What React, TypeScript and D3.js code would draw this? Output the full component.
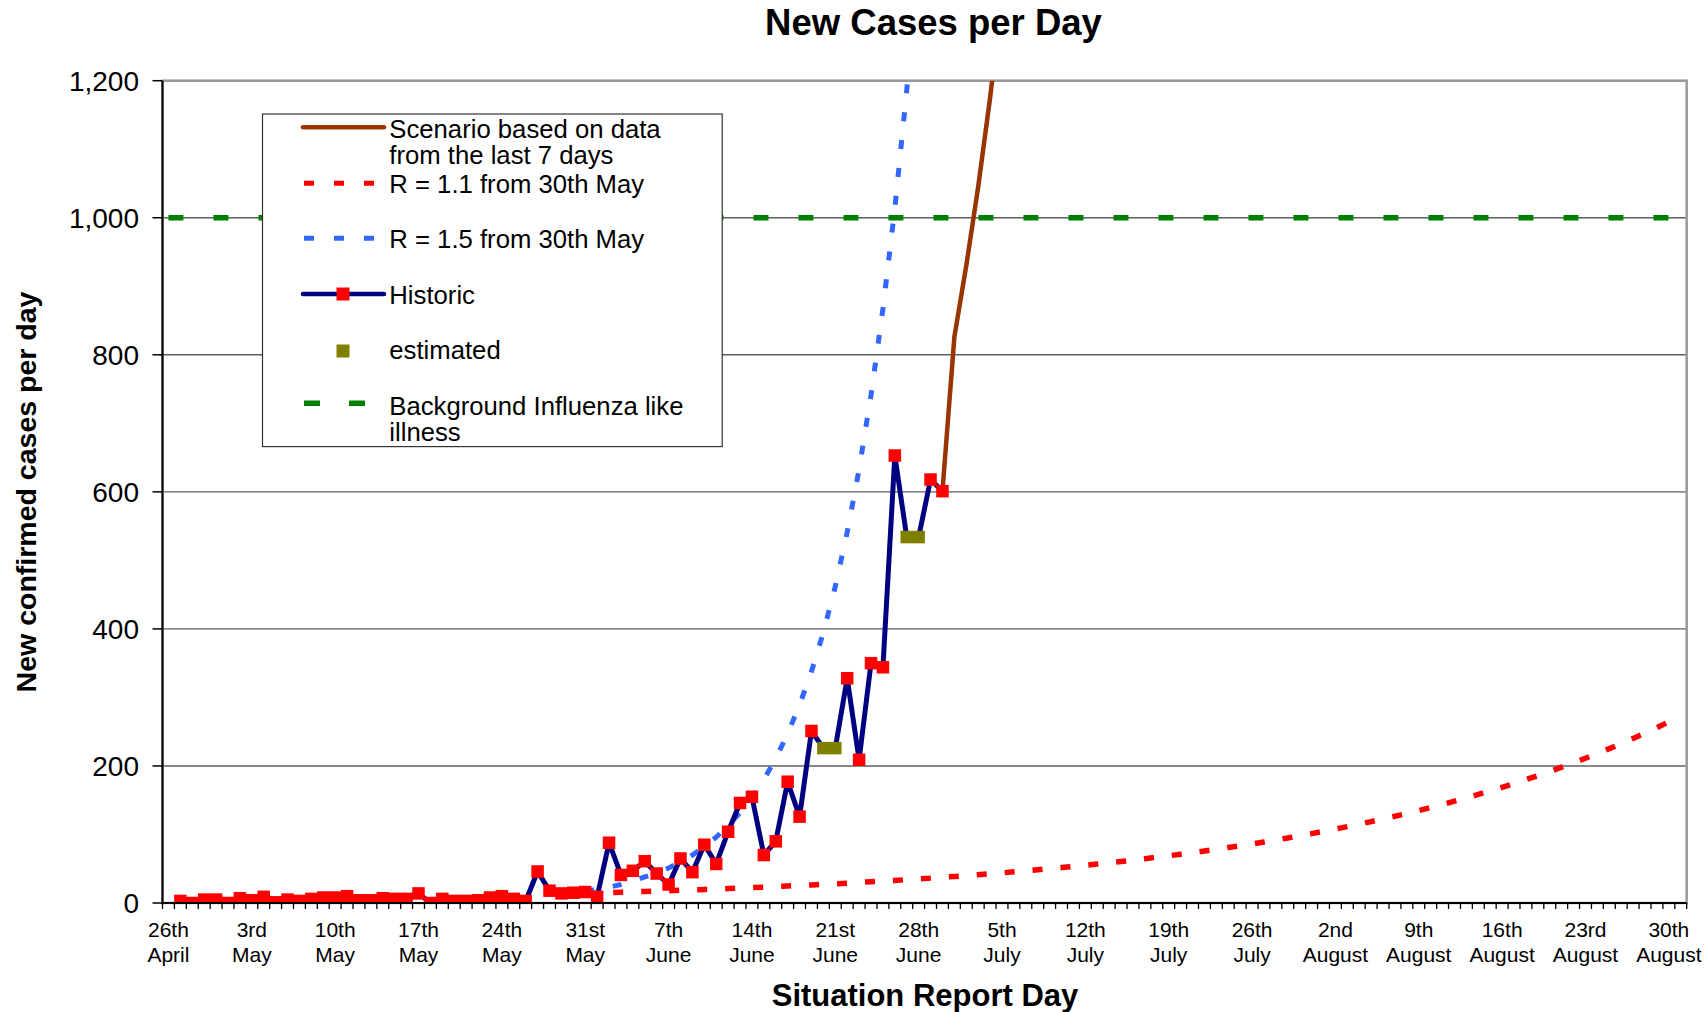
import React from 'react';
import * as d3 from 'd3';

const W = 1708;
const H = 1012;

// Categories: one per day, 26 April 2009 .. 31 August 2009
const startDate = new Date(2009, 3, 26);
const endDate = new Date(2009, 8, 1);
const categories: Date[] = d3.timeDay.range(startDate, endDate);

const tickLabels: string[][] = [
  ['26th', 'April'], ['3rd', 'May'], ['10th', 'May'], ['17th', 'May'], ['24th', 'May'],
  ['31st', 'May'], ['7th', 'June'], ['14th', 'June'], ['21st', 'June'], ['28th', 'June'],
  ['5th', 'July'], ['12th', 'July'], ['19th', 'July'], ['26th', 'July'], ['2nd', 'August'],
  ['9th', 'August'], ['16th', 'August'], ['23rd', 'August'], ['30th', 'August'],
];
const tickEvery = 7;

const yTicks = [0, 200, 400, 600, 800, 1000, 1200];
const yTickLabels = ['0', '200', '400', '600', '800', '1,000', '1,200'];

// Historic daily new confirmed cases, from 27 April
const historicStart = new Date(2009, 3, 27);
const historic = [
  3, 0, 5, 5, 0, 7, 4, 9, 1, 5,
  3, 6, 8, 8, 10, 4, 4, 7, 6, 6,
  14, 0, 6, 3, 3, 4, 8, 10, 6, 3,
  46, 18, 14, 15, 16, 9, 88, 41, 47, 61,
  43, 27, 65, 45, 85, 57, 104, 146, 155, 70,
  90, 177, 126, 251, 226, 226, 328, 209, 350, 344,
  653, 534, 534, 618, 601,
];
const estimatedDates = [
  new Date(2009, 5, 20), new Date(2009, 5, 21), new Date(2009, 5, 27), new Date(2009, 5, 28),
];

// Scenario based on data from the last 7 days, from 30 June
const scenarioStart = new Date(2009, 5, 30);
const scenario = [601, 826, 930, 1045, 1175, 1320];

// R = 1.1 from 30th May (drawn from 31 May)
const r11Start = new Date(2009, 4, 31);
const r11 = [
  14.4, 14.8, 15.3, 15.8, 16.3, 16.9, 17.4, 18.0, 18.6, 19.2,
  19.8, 20.4, 21.1, 21.8, 22.5, 23.2, 24.0, 24.8, 25.6, 26.4,
  27.2, 28.1, 29.0, 30.0, 31.0, 32.0, 33.0, 34.1, 35.2, 36.3,
  37.5, 38.7, 40.0, 41.3, 42.6, 44.0, 45.5, 46.9, 48.5, 50.1,
  51.7, 53.4, 55.1, 56.9, 58.7, 60.6, 62.6, 64.7, 66.8, 68.9,
  71.2, 73.5, 75.9, 78.3, 80.9, 83.5, 86.2, 89.0, 91.9, 94.9,
  98.0, 101.2, 104.5, 107.9, 111.4, 115.0, 118.8, 122.6, 126.6, 130.7,
  135.0, 139.4, 143.9, 148.6, 153.4, 158.4, 163.6, 168.9, 174.4, 180.1,
  185.9, 192.0, 198.2, 204.7, 211.3, 218.2, 225.3, 232.6, 240.2, 248.0,
  256.1, 264.4, 273.0,
];

// R = 1.5 from 30th May (drawn from 31 May)
const r15Start = new Date(2009, 4, 31);
const r15 = [
  17, 20, 23, 27, 32, 38, 44, 51, 60, 70,
  82, 96, 113, 132, 154, 180, 211, 247, 289, 338,
  395, 462, 541, 633, 741, 867, 1014, 1186, 1388,
];

// Background influenza like illness level
const influenzaLevel = 1000;

const FONT = "'Liberation Sans', Arial, Helvetica, sans-serif";

const plot = { left: 162.5, right: 1686.7, top: 80.7, bottom: 903 };

const dayIndex = (d: Date) => d3.timeDay.count(startDate, d);

export default function App() {
  const xBand = d3
    .scaleBand<number>()
    .domain(categories.map((_, i) => i))
    .range([plot.left, plot.right])
    .padding(0);
  const bw = xBand.bandwidth();
  const xc = (i: number) => (xBand(i) as number) + bw / 2;
  const y = d3.scaleLinear().domain([0, 1200]).range([plot.bottom, plot.top]);

  const line = d3
    .line<[number, number]>()
    .x((d) => xc(d[0]))
    .y((d) => y(d[1]));

  const series = (start: Date, vals: number[]): [number, number][] => {
    const s = dayIndex(start);
    return vals.map((v, k) => [s + k, v]);
  };

  const histPts = series(historicStart, historic);
  const estSet = new Set(estimatedDates.map(dayIndex));
  const scenPts = series(scenarioStart, scenario);
  const r11Pts = series(r11Start, r11);
  const r15Pts = series(r15Start, r15);
  const fluPts: [number, number][] = categories.map((_, i) => [i, influenzaLevel]);

  const mk = 12.5;

  const legX = 262.5;
  const legY = 114;
  const textX = 389.3;
  const legFont = 25.7;

  return (
    <svg
      width={W}
      height={H}
      viewBox={`0 0 ${W} ${H}`}
      style={{ position: 'absolute', left: 0, top: 0, background: '#fff' }}
      fontFamily={FONT}
    >
      <defs>
        <clipPath id="plotClip">
          <rect x={plot.left} y={plot.top} width={plot.right - plot.left} height={plot.bottom - plot.top} />
        </clipPath>
      </defs>
      <rect x={0} y={0} width={W} height={H} fill="#fff" />

      {/* Title */}
      <text x={933.5} y={35} textAnchor="middle" fontSize={36.5} fontWeight="bold" fill="#000">
        New Cases per Day
      </text>

      {/* Gridlines */}
      {yTicks.slice(1).map((t) => (
        <line key={t} x1={plot.left} x2={plot.right} y1={y(t)} y2={y(t)} stroke="#5f5f5f" strokeWidth={1.4} />
      ))}

      {/* Plot border */}
      <rect
        x={plot.left}
        y={plot.top}
        width={plot.right - plot.left}
        height={plot.bottom - plot.top}
        fill="none"
        stroke="#9a9a9a"
        strokeWidth={2.5}
      />

      <g clipPath="url(#plotClip)">
        {/* Background influenza */}
        <path d={line(fluPts) as string} fill="none" stroke="#008000" strokeWidth={5.5} strokeDasharray="15 30" />
        {/* R = 1.1 */}
        <path d={line(r11Pts) as string} fill="none" stroke="#ff0000" strokeWidth={5.5} strokeDasharray="10 18" />
        {/* R = 1.5 */}
        <path d={line(r15Pts) as string} fill="none" stroke="#3366ff" strokeWidth={5} strokeDasharray="9 19" />
        {/* Scenario */}
        <path d={line(scenPts) as string} fill="none" stroke="#993300" strokeWidth={4.5} />
        {/* Historic */}
        <path d={line(histPts) as string} fill="none" stroke="#000080" strokeWidth={5} strokeLinejoin="round" />
        {histPts.map(([i, v]) => (
          <rect
            key={i}
            x={xc(i) - mk / 2}
            y={y(v) - mk / 2}
            width={mk}
            height={mk}
            fill={estSet.has(i) ? '#808000' : '#ff0000'}
          />
        ))}
      </g>

      {/* Axes */}
      <line x1={plot.left} x2={plot.left} y1={plot.top} y2={plot.bottom + 1} stroke="#000" strokeWidth={2} />
      <line x1={plot.left - 1} x2={plot.right} y1={plot.bottom} y2={plot.bottom} stroke="#000" strokeWidth={2} />

      {/* y ticks */}
      {yTicks.map((t, k) => (
        <g key={t}>
          <line x1={plot.left - 10} x2={plot.left} y1={y(t)} y2={y(t)} stroke="#000" strokeWidth={1.5} />
          <text x={139} y={y(t) + 10} textAnchor="end" fontSize={28} fill="#000">
            {yTickLabels[k]}
          </text>
        </g>
      ))}

      {/* x minor ticks at category boundaries */}
      {d3.range(categories.length + 1).map((i) => {
        const xx = plot.left + i * bw;
        return <line key={i} x1={xx} x2={xx} y1={plot.bottom} y2={plot.bottom + 6} stroke="#000" strokeWidth={1.3} />;
      })}

      {/* x labels */}
      {tickLabels.map((lab, k) => {
        const i = k * tickEvery;
        return (
          <text key={k} x={xc(i)} textAnchor="middle" fontSize={21} fill="#000">
            <tspan x={xc(i)} y={937}>{lab[0]}</tspan>
            <tspan x={xc(i)} y={962}>{lab[1]}</tspan>
          </text>
        );
      })}

      {/* Axis titles */}
      <text x={925} y={1006} textAnchor="middle" fontSize={31} fontWeight="bold" fill="#000">
        Situation Report Day
      </text>
      <text
        transform={`translate(36,492) rotate(-90)`}
        textAnchor="middle"
        fontSize={28.5}
        fontWeight="bold"
        fill="#000"
      >
        New confirmed cases per day
      </text>

      {/* Legend */}
      <g>
        <rect x={legX} y={legY} width={459.7} height={332.6} fill="#fff" stroke="#333" strokeWidth={1.2} />
        <line x1={303} x2={384} y1={127.3} y2={127.3} stroke="#993300" strokeWidth={4.5} strokeLinecap="round" />
        <line x1={304} x2={384} y1={183.3} y2={183.3} stroke="#ff0000" strokeWidth={5} strokeDasharray="10 20" />
        <line x1={304} x2={384} y1={238.3} y2={238.3} stroke="#3366ff" strokeWidth={5} strokeDasharray="10 20" />
        <line x1={303} x2={384} y1={294} y2={294} stroke="#000080" strokeWidth={4.5} strokeLinecap="round" />
        <rect x={343 - 6.5} y={294 - 6.5} width={13} height={13} fill="#ff0000" />
        <rect x={343 - 6.5} y={351 - 6.5} width={13} height={13} fill="#808000" />
        <line x1={304} x2={370} y1={403.3} y2={403.3} stroke="#008000" strokeWidth={5.5} strokeDasharray="16 29" />
        <text fontSize={legFont} fill="#000">
          <tspan x={textX} y={138.3}>Scenario based on data</tspan>
          <tspan x={textX} y={164.3}>from the last 7 days</tspan>
          <tspan x={textX} y={193.3}>R = 1.1 from 30th May</tspan>
          <tspan x={textX} y={248.3}>R = 1.5 from 30th May</tspan>
          <tspan x={textX} y={304}>Historic</tspan>
          <tspan x={textX} y={359.3}>estimated</tspan>
          <tspan x={textX} y={415}>Background Influenza like</tspan>
          <tspan x={textX} y={441}>illness</tspan>
        </text>
      </g>
    </svg>
  );
}
